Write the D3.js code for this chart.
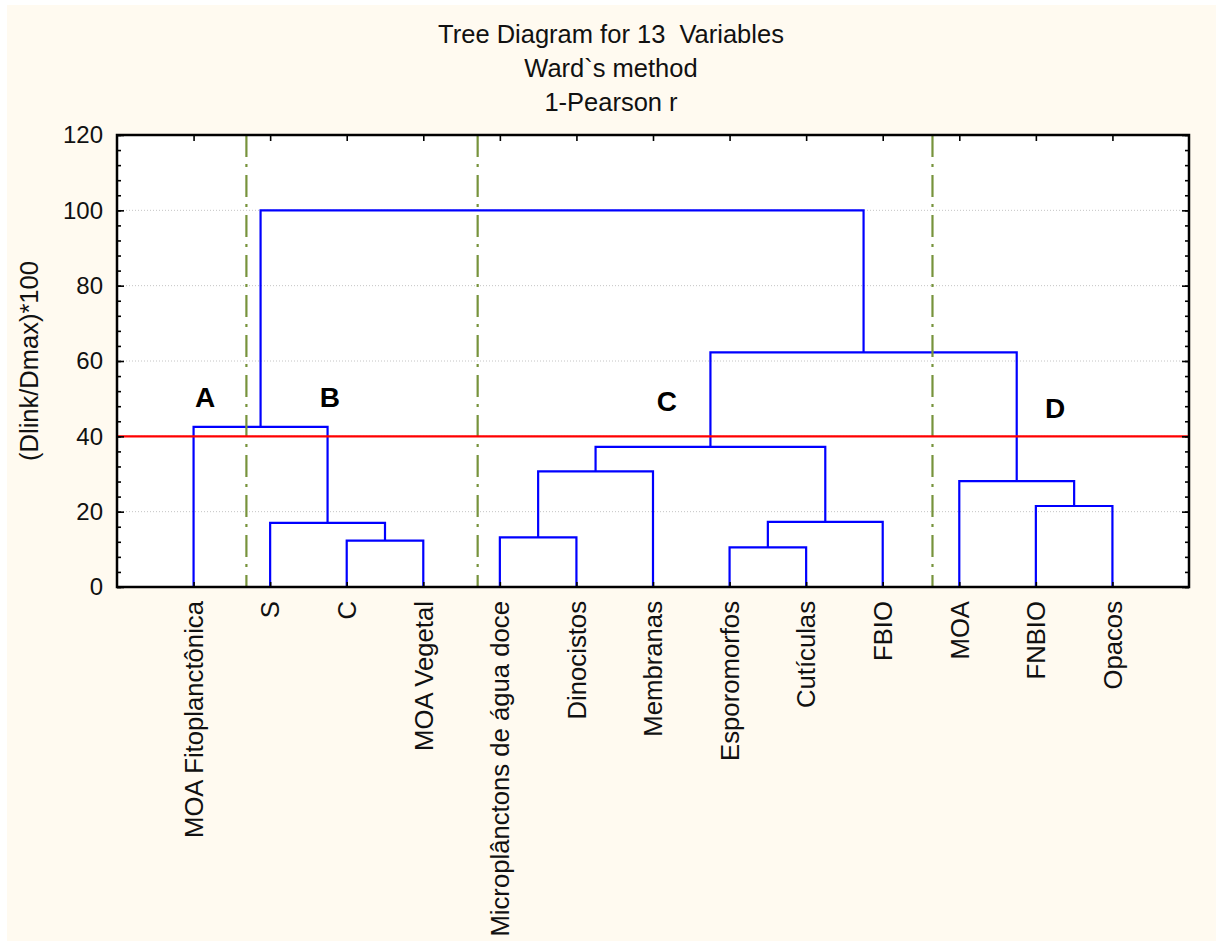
<!DOCTYPE html>
<html>
<head>
<meta charset="utf-8">
<script src="https://cdn.jsdelivr.net/npm/d3@7"></script>
<style>
body { margin: 0; background: #ffffff; }
text { font-family: "Liberation Sans", Arial, sans-serif; white-space: pre; }
</style>
</head>
<body>
<script>
var w = 1216;
var h = 941;

var titleLines = ["Tree Diagram for 13  Variables", "Ward`s method", "1-Pearson r"];
var yLabel = "(Dlink/Dmax)*100";

var leaves = ["MOA Fitoplanctônica", "S", "C", "MOA Vegetal", "Microplânctons de água doce",
  "Dinocistos", "Membranas", "Esporomorfos", "Cutículas", "FBIO", "MOA", "FNBIO", "Opacos"];

// linkage: [left id, right id, height]; ids >= 13 are earlier merges
var mergeLeft   = [7, 2, 4, 1, 13, 11, 10, 15, 20, 0, 21, 22];
var mergeRight  = [8, 3, 5, 14, 9, 12, 18, 6, 17, 16, 19, 23];
var mergeHeight = [10.5, 12.3, 13.2, 17.0, 17.3, 21.5, 28.1, 30.7, 37.2, 42.5, 62.3, 100];

var yTicks = [0, 20, 40, 60, 80, 100, 120];
var cutLevel = 40;
// group separators, in leaf-index units
var separators = [0.69, 3.71, 9.65];
var groupNames = ["A", "B", "C", "D"];
var groupX = [0.15, 1.78, 6.18, 11.25];
var groupY = [47.7, 47.7, 46.6, 44.8];

var pLeft = 117, pRight = 1189, pTop = 135, pBottom = 587;

var svg = d3.select("body").append("svg").attr("width", w).attr("height", h);

svg.append("rect").attr("x", 7).attr("y", 5).attr("width", w - 7).attr("height", h - 5)
  .attr("fill", "#fffaf0");
svg.append("rect").attr("x", pLeft).attr("y", pTop).attr("width", pRight - pLeft).attr("height", pBottom - pTop)
  .attr("fill", "#ffffff");

var x = d3.scaleLinear().domain([-1, leaves.length]).range([pLeft, pRight]);
var y = d3.scaleLinear().domain([0, 120]).range([pBottom, pTop]);

// title
svg.selectAll("text.title")
  .data(titleLines)
  .enter()
  .append("text")
  .attr("class", "title")
  .attr("x", 611)
  .attr("y", function(d, i) { return 43 + i * 34; })
  .attr("text-anchor", "middle")
  .attr("font-size", 25.5)
  .attr("fill", "#111")
  .text(function(d) { return d; });

// grid
svg.selectAll("line.grid")
  .data(yTicks.filter(function(d) { return d > 0 && d < 120; }))
  .enter()
  .append("line")
  .attr("x1", pLeft).attr("x2", pRight)
  .attr("y1", function(d) { return y(d); })
  .attr("y2", function(d) { return y(d); })
  .attr("stroke", "#c4c4c4")
  .attr("stroke-width", 1)
  .attr("stroke-dasharray", "1,2");

// dendrogram
var n = leaves.length;
var nodeX = leaves.map(function(d, i) { return x(i); });
var nodeH = leaves.map(function() { return 0; });
var links = [];
mergeHeight.forEach(function(hh, k) {
  var a = mergeLeft[k], b = mergeRight[k];
  var xa = nodeX[a], xb = nodeX[b];
  links.push([[xa, y(nodeH[a])], [xa, y(hh)], [xb, y(hh)], [xb, y(nodeH[b])]]);
  nodeX.push((xa + xb) / 2);
  nodeH.push(hh);
});

svg.selectAll("path.link")
  .data(links)
  .enter()
  .append("path")
  .attr("d", d3.line())
  .attr("fill", "none")
  .attr("stroke", "#0000ff")
  .attr("stroke-width", 2.2);

// separators
svg.selectAll("line.sep")
  .data(separators)
  .enter()
  .append("line")
  .attr("x1", function(d) { return x(d); })
  .attr("x2", function(d) { return x(d); })
  .attr("y1", pTop).attr("y2", pBottom)
  .attr("stroke", "#77933c")
  .attr("stroke-width", 2.2)
  .attr("stroke-dasharray", "22,7,3,8");

// cut line
svg.append("line")
  .attr("x1", pLeft).attr("x2", pRight)
  .attr("y1", y(cutLevel)).attr("y2", y(cutLevel))
  .attr("stroke", "#ff0000")
  .attr("stroke-width", 2.2);

// group letters
svg.selectAll("text.group")
  .data(groupNames)
  .enter()
  .append("text")
  .attr("x", function(d, i) { return x(groupX[i]); })
  .attr("y", function(d, i) { return y(groupY[i]); })
  .attr("text-anchor", "middle")
  .attr("font-size", 28)
  .attr("font-weight", "bold")
  .attr("fill", "#000")
  .text(function(d) { return d; });

// axes with inward ticks
var minor = d3.range(0, 121, 4);
var yLeft = d3.axisLeft(y).tickValues(minor).tickSize(-4).tickFormat("");
var yRight = d3.axisRight(y).tickValues(minor).tickSize(-4).tickFormat("");
svg.append("g").attr("transform", "translate(" + pLeft + ",0)").call(yLeft);
svg.append("g").attr("transform", "translate(" + pRight + ",0)").call(yRight);
svg.append("g").attr("transform", "translate(" + pLeft + ",0)")
  .call(d3.axisLeft(y).tickValues(yTicks).tickSize(-7).tickPadding(14))
  .selectAll("text").attr("font-size", 24).attr("fill", "#111");
svg.append("g").attr("transform", "translate(" + pRight + ",0)")
  .call(d3.axisRight(y).tickValues(yTicks).tickSize(-7).tickFormat(""));

var leafIdx = d3.range(n);
svg.append("g").attr("transform", "translate(0," + pTop + ")")
  .call(d3.axisTop(x).tickValues(leafIdx).tickSize(-6).tickFormat(""));
svg.append("g").attr("transform", "translate(0," + pBottom + ")")
  .call(d3.axisBottom(x).tickValues(leafIdx).tickSize(-5).tickFormat(""));

svg.selectAll(".domain").remove();
svg.selectAll(".tick line").attr("stroke", "#000").attr("stroke-width", 1.6);
svg.selectAll(".tick text").attr("font-family", "Liberation Sans, Arial, sans-serif");

// frame
svg.append("rect").attr("x", pLeft).attr("y", pTop).attr("width", pRight - pLeft).attr("height", pBottom - pTop)
  .attr("fill", "none").attr("stroke", "#000").attr("stroke-width", 2.5);

// leaf labels
svg.selectAll("text.leaf")
  .data(leaves)
  .enter()
  .append("text")
  .attr("transform", function(d, i) { return "translate(" + x(i) + "," + (pBottom + 14) + ") rotate(-90)"; })
  .attr("dy", "0.36em")
  .attr("text-anchor", "end")
  .attr("font-size", 25.7)
  .attr("fill", "#111")
  .text(function(d) { return d; });

// y label
svg.append("text")
  .attr("transform", "translate(38," + ((pTop + pBottom) / 2) + ") rotate(-90)")
  .attr("text-anchor", "middle")
  .attr("font-size", 25.5)
  .attr("fill", "#111")
  .text(yLabel);
</script>
</body>
</html>
